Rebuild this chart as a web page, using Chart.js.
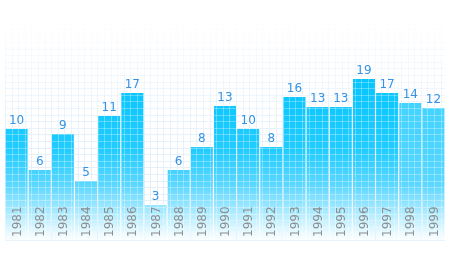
<!DOCTYPE html>
<html>
<head>
<meta charset="utf-8">
<script src="https://cdn.jsdelivr.net/npm/chart.js@4"></script>
<style>
  html, body { margin: 0; padding: 0; background: #fff; }
  #wrap { width: 459px; height: 280px; }
</style>
</head>
<body>
<div id="wrap"><canvas id="chart"></canvas></div>
<script>
const years = ['1981', '1982', '1983', '1984', '1985', '1986', '1987', '1988', '1989', '1990',
               '1991', '1992', '1993', '1994', '1995', '1996', '1997', '1998', '1999'];
// numbers printed above the bars
const values = [10, 6, 9, 5, 11, 17, 3, 6, 8, 13, 10, 8, 16, 13, 13, 19, 17, 14, 12];
// bar heights as drawn in the source graphic (it is not drawn to scale with the printed numbers)
const barLevels = [11.1, 7.0, 10.6, 5.9, 12.4, 14.7, 3.5, 7.0, 9.3, 13.4,
                   11.1, 9.3, 14.3, 13.3, 13.3, 16.1, 14.7, 13.7, 13.2];
const yMax = 24;

const GRID = 6.6;

function gridLines(ctx, area, top) {
    ctx.beginPath();
    for (let x = area.left; x <= area.right; x += GRID) {
        const px = Math.round(x) + 0.5;
        ctx.moveTo(px, top);
        ctx.lineTo(px, area.bottom);
    }
    for (let y = area.bottom; y >= top; y -= GRID) {
        const py = Math.round(y) + 0.5;
        ctx.moveTo(area.left, py);
        ctx.lineTo(area.right, py);
    }
    ctx.stroke();
}

// faint blue grid paper behind the bars, white grid lines on the bars, text on top
const gridPaper = {
    id: 'gridPaper',
    beforeDatasetsDraw(chart) {
        const { ctx, chartArea } = chart;
        const grad = ctx.createLinearGradient(0, 15, 0, 240);
        grad.addColorStop(0, 'rgba(225,238,250,0)');
        grad.addColorStop(0.35, 'rgba(225,238,250,0.55)');
        grad.addColorStop(0.7, 'rgba(225,238,250,0.9)');
        grad.addColorStop(1, 'rgba(225,238,250,0.7)');
        ctx.save();
        ctx.strokeStyle = grad;
        ctx.lineWidth = 1;
        gridLines(ctx, chartArea, 15);
        ctx.restore();
    },
    afterDatasetsDraw(chart) {
        const { ctx, chartArea } = chart;
        const meta = chart.getDatasetMeta(0);
        const xScale = chart.scales.x;

        ctx.save();
        ctx.beginPath();
        meta.data.forEach(bar => {
            ctx.rect(bar.x - bar.width / 2, bar.y, bar.width, bar.base - bar.y);
        });
        ctx.clip();
        ctx.strokeStyle = 'rgba(255,255,255,0.3)';
        ctx.lineWidth = 1;
        gridLines(ctx, chartArea, 0);
        ctx.restore();

        // printed values above each bar
        ctx.save();
        ctx.fillStyle = '#3593e6';
        ctx.font = '12px "DejaVu Sans"';
        ctx.textAlign = 'center';
        ctx.textBaseline = 'bottom';
        meta.data.forEach((bar, i) => {
            ctx.fillText(String(values[i]), bar.x, bar.y - 2);
        });
        ctx.restore();

        // year labels, rotated, sitting inside the foot of each bar
        ctx.save();
        ctx.fillStyle = '#8e8e8e';
        ctx.font = '12px "DejaVu Sans"';
        ctx.textAlign = 'left';
        ctx.textBaseline = 'middle';
        years.forEach((yr, i) => {
            const x = xScale.getPixelForValue(i);
            ctx.save();
            ctx.translate(x + 1, chartArea.bottom - 3);
            ctx.rotate(-Math.PI / 2);
            ctx.fillText(yr, 0, 0);
            ctx.restore();
        });
        ctx.restore();
    }
};

function barFill(context) {
    const chart = context.chart;
    const { ctx, chartArea } = chart;
    if (!chartArea) return '#00c6fe';
    const light = context.dataIndex >= 17;
    const top = 80, bottom = chartArea.bottom;
    const g = ctx.createLinearGradient(0, top, 0, bottom);
    const at = y => (y - top) / (bottom - top);
    g.addColorStop(0, light ? '#3fd2ff' : '#06c5fe');
    g.addColorStop(at(150), light ? '#4cd5ff' : '#22ccff');
    g.addColorStop(at(185), '#5cd7ff');
    g.addColorStop(at(210), '#a6e9ff');
    g.addColorStop(at(232), '#e6f9ff');
    g.addColorStop(1, '#fbfeff');
    return g;
}

new Chart(document.getElementById('chart'), {
    type: 'bar',
    data: {
        labels: years,
        datasets: [{
            data: barLevels,
            backgroundColor: barFill,
            borderWidth: 0,
            barPercentage: 0.95,
            categoryPercentage: 1.0
        }]
    },
    options: {
        responsive: true,
        maintainAspectRatio: false,
        animation: false,
        layout: { padding: { left: 5, right: 14, top: 0, bottom: 40 } },
        plugins: { legend: { display: false }, tooltip: { enabled: false } },
        scales: {
            x: { display: false },
            y: { display: false, min: 0, max: yMax }
        }
    },
    plugins: [gridPaper]
});
</script>
</body>
</html>
